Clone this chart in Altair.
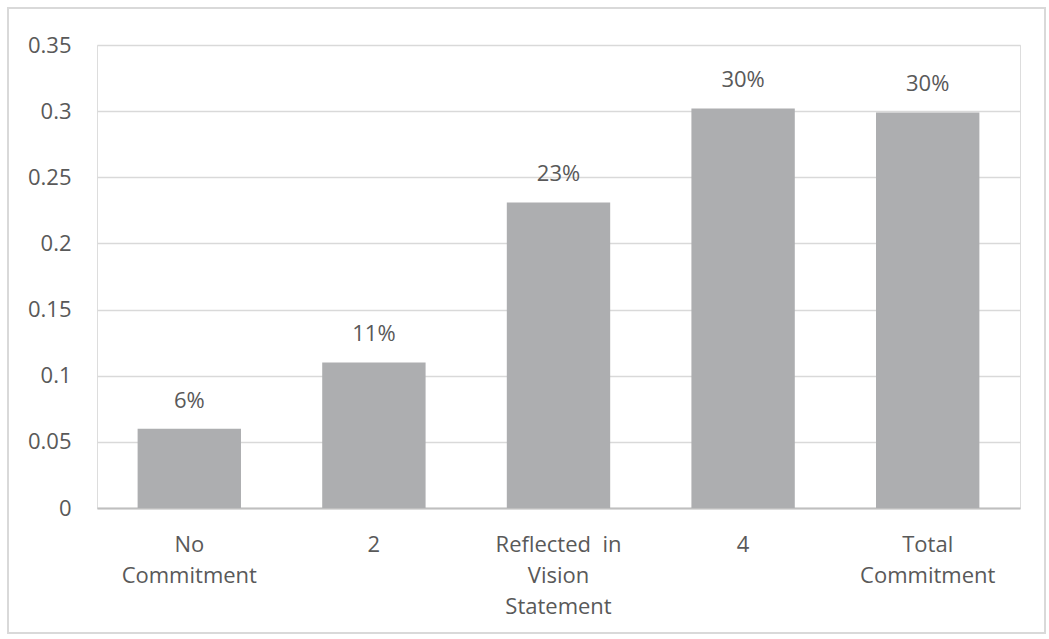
import altair as alt
import pandas as pd

categories = ["No\nCommitment", "2", "Reflected\u00a0\u00a0in\nVision\nStatement", "4", "Total\nCommitment"]
values = [0.06, 0.11, 0.231, 0.302, 0.299]
labels = ["6%", "11%", "23%", "30%", "30%"]
y_ticks = [0, 0.05, 0.1, 0.15, 0.2, 0.25, 0.3, 0.35]

df = pd.DataFrame({"cat": categories, "value": values, "label": labels})

FONT = "Open Sans"
TXT = "#595959"
FS = 22

x_enc = alt.X("cat:N", sort=categories, title=None,
              scale=alt.Scale(paddingInner=0.44, paddingOuter=0.22),
              axis=alt.Axis(labelExpr="split(datum.label, '\\n')", labelAngle=0,
                            labelFontSize=FS, labelColor=TXT, labelFont=FONT,
                            labelLineHeight=31, labelPadding=26, labelBaseline="top",
                            ticks=False, domainColor="#bfbfbf", domainWidth=2,
                            grid=False))

y_enc = alt.Y("value:Q", title=None,
              scale=alt.Scale(domain=[0, 0.35], nice=False),
              axis=alt.Axis(values=y_ticks, format="~g",
                            labelFontSize=FS, labelColor=TXT, labelFont=FONT,
                            labelPadding=26, ticks=False, domain=False,
                            gridColor="#d9d9d9", gridWidth=1.5))

bars = alt.Chart(df).mark_bar(color="#adaeb0").encode(x=x_enc, y=y_enc)

text = alt.Chart(df).mark_text(dy=-16, baseline="bottom", fontSize=FS,
                               color=TXT, font=FONT).encode(
    x=alt.X("cat:N", sort=categories), y="value:Q", text="label:N")

border = alt.Chart(df).mark_rect(fill=None, stroke="#d9d9d9", strokeWidth=2).encode(
    x=alt.value(-89), x2=alt.value(948), y=alt.value(-37), y2=alt.value(588))

chart = alt.layer(border, bars, text).properties(
    width=923, height=463,
    autosize=alt.AutoSizeParams(type="none"),
    padding={"left": 97, "top": 45, "right": 29, "bottom": 131},
).configure_view(stroke=None).configure(background="white")

chart.save("out.html", embed_options={"renderer": "svg", "actions": False})
